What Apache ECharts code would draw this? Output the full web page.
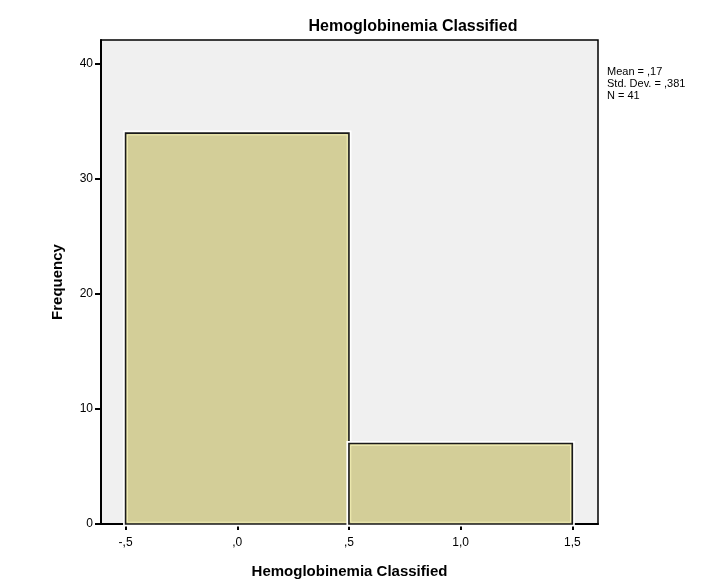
<!DOCTYPE html>
<html><head><meta charset="utf-8">
<script src="https://cdn.jsdelivr.net/npm/echarts@6/dist/echarts.min.js"></script>
<style>html,body{margin:0;padding:0;background:#fff}#c{width:708px;height:586px}</style>
</head><body><div id="c"></div>
<script>
var binStarts = [-0.5, 0.5];
var binEnds = [0.5, 1.5];
var frequencies = [34, 7];
var xTickValues = [-0.5, 0, 0.5, 1.0, 1.5];
var xTickLabels = ['-,5', ',0', ',5', '1,0', '1,5'];
var yTickValues = [0, 10, 20, 30, 40];
var statsLines = ['Mean = ,17', 'Std. Dev. = ,381', 'N = 41'];

var data = binStarts.map(function (s, i) { return [s, binEnds[i], frequencies[i]]; });
var FONT = '"Liberation Sans", Arial, sans-serif';

var chart = echarts.init(document.getElementById('c'), null, {renderer: 'canvas'});
chart.setOption({
  animation: false,
  backgroundColor: '#ffffff',
  title: {
    text: 'Hemoglobinemia Classified',
    left: 408, top: 14, textAlign: 'center',
    textStyle: {fontFamily: FONT, fontSize: 16, fontWeight: 'bold', color: '#000'}
  },
  grid: {
    left: 101, top: 40, right: 110, bottom: 62,
    show: true, backgroundColor: '#f0f0f0', borderColor: '#000', borderWidth: 1.5
  },
  xAxis: {
    type: 'value', min: -0.61, max: 1.615,
    name: 'Hemoglobinemia Classified', nameLocation: 'middle', nameGap: 40,
    nameTextStyle: {fontFamily: FONT, fontSize: 15, fontWeight: 'bold', color: '#000'},
    axisLine: {show: true, onZero: false, lineStyle: {color: '#000', width: 2}},
    axisTick: {show: true, length: 6, lineStyle: {color: '#000', width: 2}, customValues: xTickValues},
    axisLabel: {
      show: true, customValues: xTickValues, margin: 13,
      fontFamily: FONT, fontSize: 12, color: '#000',
      formatter: function (v) {
        var i = xTickValues.findIndex(function (t) { return Math.abs(t - v) < 1e-6; });
        return i >= 0 ? xTickLabels[i] : '';
      }
    },
    splitLine: {show: false}
  },
  yAxis: {
    type: 'value', min: 0, max: 42.1,
    name: 'Frequency', nameLocation: 'middle', nameGap: 36, nameRotate: 90,
    nameTextStyle: {fontFamily: FONT, fontSize: 15, fontWeight: 'bold', color: '#000'},
    axisLine: {show: true, onZero: false, lineStyle: {color: '#000', width: 2}},
    axisTick: {show: true, length: 6, lineStyle: {color: '#000', width: 2}, customValues: yTickValues},
    axisLabel: {show: true, customValues: yTickValues, margin: 8, fontFamily: FONT, fontSize: 12, color: '#000'},
    splitLine: {show: false}
  },
  graphic: [{
    type: 'text', left: 607, top: 66,
    style: {text: statsLines.join('\n'), fontFamily: FONT, fontSize: 11, lineHeight: 12, fill: '#000'}
  }],
  series: [{
    type: 'custom',
    data: data,
    encode: {x: [0, 1], y: 2},
    renderItem: function (params, api) {
      var p0 = api.coord([api.value(0), 0]);
      var p1 = api.coord([api.value(1), api.value(2)]);
      var x = p0[0], y = p1[1], w = p1[0] - p0[0], h = p0[1] - p1[1];
      return {
        type: 'group',
        children: [
          {type: 'rect', shape: {x: x, y: y, width: w, height: h},
           style: {fill: 'none', stroke: '#ffffff', lineWidth: 5}},
          {type: 'rect', shape: {x: x, y: y, width: w, height: h},
           style: {fill: '#d3ce98', stroke: '#1a1a1a', lineWidth: 1.6}},
          {type: 'rect', shape: {x: x + 1.8, y: y + 1.8, width: w - 3.6, height: h - 3.6},
           style: {fill: 'none', stroke: '#f2eeb4', lineWidth: 1}}
        ]
      };
    }
  }]
});
</script></body></html>
